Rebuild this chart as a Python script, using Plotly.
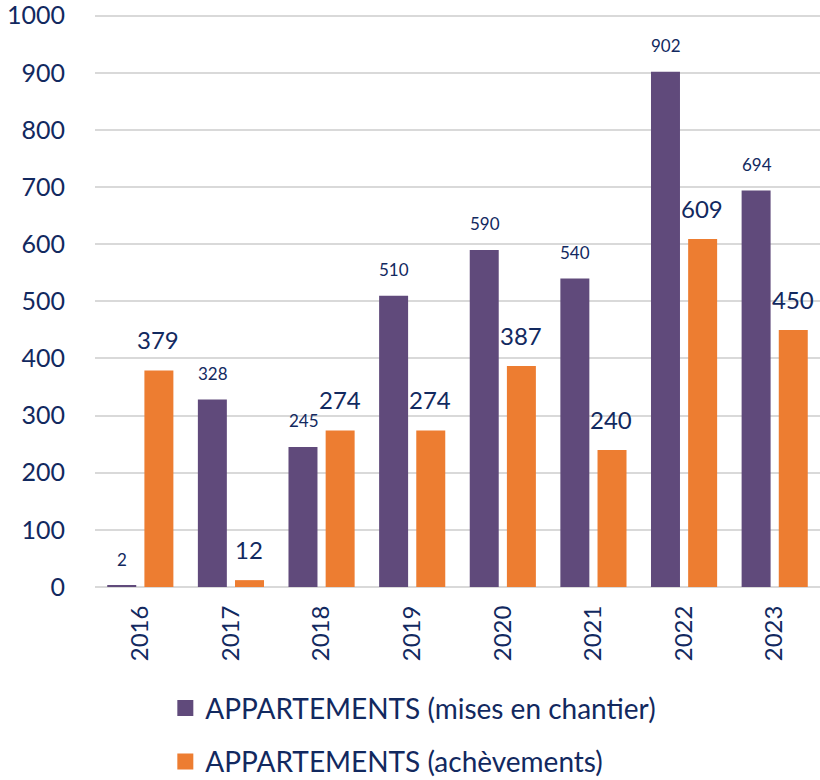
import plotly.graph_objects as go

years = ["2016", "2017", "2018", "2019", "2020", "2021", "2022", "2023"]
mises_en_chantier = [2, 328, 245, 510, 590, 540, 902, 694]
achevements = [379, 12, 274, 274, 387, 240, 609, 450]

name_mises = "APPARTEMENTS (mises en chantier)"
name_ach = "APPARTEMENTS (achèvements)"

PURPLE = "#604A7B"
ORANGE = "#ED7D31"
NAVY = "#12295F"
FONT = "Lato"

fig = go.Figure()
fig.add_trace(go.Bar(x=years, y=mises_en_chantier, name=name_mises,
                     marker=dict(color=PURPLE, line=dict(width=0)),
                     showlegend=False))
fig.add_trace(go.Bar(x=years, y=achevements, name=name_ach,
                     marker=dict(color=ORANGE, line=dict(width=0)),
                     showlegend=False))
# legend entries with larger square swatches
fig.add_trace(go.Scatter(x=[years[0]], y=[None], mode="markers", name=name_mises,
                         marker=dict(symbol="square", size=17, color=PURPLE,
                                     line=dict(width=0)),
                         legendgroup="a", hoverinfo="skip"))
fig.add_trace(go.Scatter(x=[years[0]], y=[None], mode="markers", name=name_ach,
                         marker=dict(symbol="square", size=17, color=ORANGE,
                                     line=dict(width=0)),
                         legendgroup="b", hoverinfo="skip"))

for i, v in enumerate(mises_en_chantier):
    fig.add_annotation(x=i, y=v, xref="x", yref="y", text=str(v), showarrow=False,
                       xshift=-18, yanchor="bottom", yshift=14,
                       font=dict(family=FONT, size=17, color=NAVY))
for i, v in enumerate(achevements):
    fig.add_annotation(x=i, y=v, xref="x", yref="y", text=str(v), showarrow=False,
                       xshift=18, yanchor="bottom", yshift=14,
                       font=dict(family=FONT, size=24, color=NAVY))

fig.update_layout(
    width=820, height=780,
    margin=dict(l=95, r=0, t=10.3, b=193, autoexpand=False),
    paper_bgcolor="white", plot_bgcolor="white",
    barmode="group", bargap=0.18, bargroupgap=0.22,
    font=dict(family=FONT, color=NAVY, size=24),
    showlegend=True,
    legend=dict(orientation="v", x=0.097, xanchor="left", y=-0.167, yanchor="top",
                font=dict(family=FONT, size=28, color=NAVY), itemsizing="trace",
                tracegroupgap=14, bgcolor="rgba(0,0,0,0)"),
    xaxis=dict(type="category", range=[-0.5, 7.5], tickangle=-90, showgrid=False,
               showline=False, ticks="outside", ticklen=8, tickcolor="rgba(0,0,0,0)",
               tickfont=dict(family=FONT, size=24, color=NAVY), automargin=False),
    yaxis=dict(range=[0, 1010], dtick=100, showgrid=True, gridcolor="#D9D9D9",
               gridwidth=2, zeroline=True, zerolinecolor="#D9D9D9", zerolinewidth=2,
               showline=False, ticks="outside", ticklen=24, tickcolor="rgba(0,0,0,0)",
               automargin=False, ticklabeloverflow="allow",
               tickfont=dict(family=FONT, size=25, color=NAVY)),
)

fig.write_html("out.html", config={"displayModeBar": False},
               post_script="document.body.style.margin='0';")
